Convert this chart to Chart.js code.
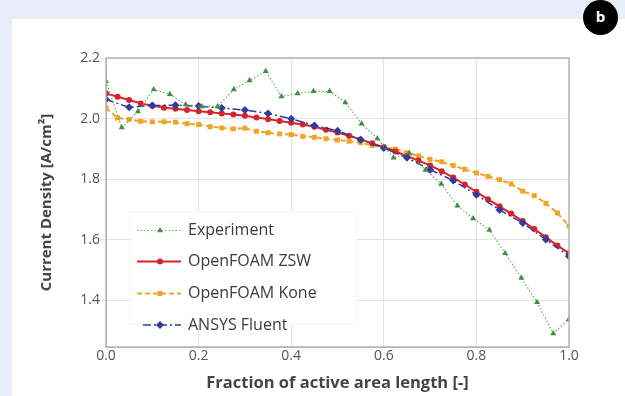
<!DOCTYPE html>
<html>
<head>
<meta charset="utf-8">
<script src="https://cdn.jsdelivr.net/npm/chart.js@4.4.1/dist/chart.umd.min.js"></script>
<style>
  html, body { margin: 0; padding: 0; }
  body { width: 625px; height: 396px; background: #e7eef7; position: relative; overflow: hidden; font-family: "Open Sans", sans-serif; }
  #panel { position: absolute; left: 12px; top: 19px; width: 613px; height: 377px; background: #fff; }
  #myChart { position: absolute; left: 0; top: 0; }
  #badge { position: absolute; left: 583px; top: 0px; width: 35px; height: 35px; border-radius: 50%; background: #000; color: #fff;
           font: bold 15px "Open Sans", sans-serif; text-align: center; line-height: 33px; }
</style>
</head>
<body>
<div id="panel"></div>
<canvas id="myChart" width="625" height="396"></canvas>
<div id="badge">b</div>
<script>
// Experiment
var expX = [0, 0.034, 0.069, 0.103, 0.138, 0.172, 0.207, 0.241, 0.276, 0.310, 0.345, 0.379, 0.414, 0.448, 0.483,
            0.517, 0.552, 0.586, 0.621, 0.655, 0.690, 0.724, 0.759, 0.793, 0.828, 0.862, 0.897, 0.931, 0.966, 1.0];
var expY = [2.123, 1.970, 2.023, 2.096, 2.080, 2.046, 2.040, 2.040, 2.096, 2.126, 2.156, 2.073, 2.083, 2.090, 2.090,
            2.053, 1.983, 1.934, 1.870, 1.886, 1.830, 1.784, 1.712, 1.670, 1.632, 1.555, 1.473, 1.393, 1.290, 1.337];

// OpenFOAM ZSW and OpenFOAM Kone share the same x positions
var ofX = [0, 0.025, 0.05, 0.075, 0.1, 0.125, 0.15, 0.175, 0.2, 0.225, 0.25, 0.275, 0.3, 0.325, 0.35, 0.375, 0.4,
           0.425, 0.45, 0.475, 0.5, 0.525, 0.55, 0.575, 0.6, 0.625, 0.65, 0.675, 0.7, 0.725, 0.75, 0.775, 0.8,
           0.825, 0.85, 0.875, 0.9, 0.925, 0.95, 0.975, 1.0];
var zswY = [2.083, 2.072, 2.061, 2.050, 2.042, 2.036, 2.032, 2.028, 2.024, 2.021, 2.017, 2.013, 2.009, 2.003, 1.998,
            1.992, 1.986, 1.980, 1.973, 1.963, 1.954, 1.943, 1.931, 1.918, 1.905, 1.891, 1.876, 1.861, 1.845, 1.826,
            1.805, 1.782, 1.758, 1.733, 1.710, 1.686, 1.661, 1.635, 1.608, 1.580, 1.555];
var koneY = [2.035, 2.002, 1.997, 1.991, 1.989, 1.989, 1.988, 1.983, 1.980, 1.973, 1.969, 1.966, 1.968, 1.958, 1.953,
             1.949, 1.947, 1.941, 1.938, 1.933, 1.929, 1.925, 1.920, 1.911, 1.905, 1.899, 1.887, 1.876, 1.865, 1.857,
             1.845, 1.832, 1.820, 1.809, 1.798, 1.784, 1.760, 1.745, 1.720, 1.688, 1.645];

// ANSYS Fluent
var fluentX = [0, 0.05, 0.1, 0.15, 0.2, 0.25, 0.3, 0.35, 0.4, 0.45, 0.5, 0.55, 0.6, 0.65, 0.7, 0.75, 0.8, 0.85, 0.9, 0.95, 1.0];
var fluentY = [2.063, 2.037, 2.043, 2.044, 2.041, 2.035, 2.028, 2.017, 1.999, 1.977, 1.960, 1.930, 1.903, 1.870, 1.831,
               1.795, 1.748, 1.698, 1.655, 1.600, 1.545];

var xTicks = [0, 0.2, 0.4, 0.6, 0.8, 1.0];
var yTicks = [1.4, 1.6, 1.8, 2.0, 2.2];

function pts(xs, ys) {
    return xs.map(function (x, i) { return { x: x, y: ys[i] }; });
}

var GREEN = '#3f8f3f', RED = '#d9222a', ORANGE = '#f2a225', BLUE = '#2e3d9c';

var series = [
    { label: 'Experiment', data: pts(expX, expY), borderColor: '#6aaa6a', backgroundColor: GREEN, pointBackgroundColor: GREEN,
      borderWidth: 1.2, borderDash: [1.5, 2], pointStyle: 'triangle', pointRadius: 3.5, order: 1 },
    { label: 'OpenFOAM ZSW', data: pts(ofX, zswY), borderColor: RED, backgroundColor: RED,
      borderWidth: 2, pointStyle: 'circle', pointRadius: 3, order: 3 },
    { label: 'OpenFOAM Kone', data: pts(ofX, koneY), borderColor: ORANGE, backgroundColor: ORANGE,
      borderWidth: 2, borderDash: [5, 3], pointStyle: 'rect', pointRadius: 3.5, order: 4 },
    { label: 'ANSYS Fluent', data: pts(fluentX, fluentY), borderColor: BLUE, backgroundColor: BLUE,
      borderWidth: 1.5, borderDash: [8, 3, 2, 3], pointStyle: 'rectRot', pointRadius: 4, order: 2 }
];
series.forEach(function (s) { s.pointBorderWidth = 0; s.tension = 0; s.pointBorderColor = s.backgroundColor; });

// frame round the plot + legend box inside the plot
var framePlugin = {
    id: 'frameLegend',
    afterDatasetsDraw: function (chart) {
        var c = chart.ctx, a = chart.chartArea;
        c.save();
        c.strokeStyle = '#b4b4b4';
        c.lineWidth = 1.5;
        c.strokeRect(a.left, a.top, a.right - a.left, a.bottom - a.top);

        // legend
        var lx = a.left + 24, ly = a.top + 154;
        c.fillStyle = 'rgba(255,255,255,0.97)';
        c.fillRect(lx, ly, 227, 112);
        c.strokeStyle = '#f4f4f4';
        c.lineWidth = 1;
        c.strokeRect(lx, ly, 227, 112);
        var rowY = [230.5, 261.5, 293.5, 325];
        series.forEach(function (s, i) {
            var y = rowY[i];
            c.strokeStyle = s.borderColor;
            c.lineWidth = s.borderWidth;
            c.setLineDash(s.borderDash || []);
            c.beginPath();
            c.moveTo(i === 3 ? 143 : 137, y);
            c.lineTo(181, y);
            c.stroke();
            c.setLineDash([]);
            c.fillStyle = s.backgroundColor;
            c.beginPath();
            Chart.helpers.drawPoint(c, { pointStyle: s.pointStyle, radius: s.pointRadius, borderWidth: 0 }, 160, y);
            c.fillStyle = '#3a3a3a';
            c.font = '16px "Open Sans", sans-serif';
            c.textBaseline = 'middle';
            c.textAlign = 'left';
            c.fillText(s.label, 188, y);
        });
        c.restore();
    }
};

const ctx = document.getElementById('myChart');

new Chart(ctx, {
    type: 'line',
    data: { datasets: series },
    plugins: [framePlugin],
    options: {
        responsive: false,
        animation: false,
        devicePixelRatio: 1,
        layout: { padding: { left: 34, right: 56, top: 58, bottom: 0 } },
        plugins: { legend: { display: false }, tooltip: { enabled: false } },
        scales: {
            x: {
                type: 'linear',
                min: 0,
                max: 1,
                afterFit: function (s) { s.height = 49; },
                afterBuildTicks: function (s) { s.ticks = xTicks.map(function (v) { return { value: v }; }); },
                ticks: {
                    color: '#555',
                    font: { family: 'Open Sans', size: 14 },
                    padding: 1,
                    maxRotation: 0,
                    callback: function (v) { return v.toFixed(1); }
                },
                grid: { color: '#e4e4e4', drawTicks: false },
                border: { color: '#b4b4b4' },
                title: {
                    display: true,
                    text: 'Fraction of active area length [-]',
                    color: '#444',
                    padding: { top: 4, bottom: 3 },
                    font: { family: 'Open Sans', size: 16.5, weight: 'bold' }
                }
            },
            y: {
                min: 1.245,
                max: 2.2,
                afterFit: function (s) { s.width = 72; },
                afterBuildTicks: function (s) { s.ticks = yTicks.map(function (v) { return { value: v }; }); },
                ticks: {
                    color: '#555',
                    font: { family: 'Open Sans', size: 14 },
                    padding: 1,
                    callback: function (v) { return v.toFixed(1); }
                },
                grid: { color: '#e4e4e4', tickLength: 5 },
                border: { color: '#b4b4b4' },
                title: {
                    display: true,
                    text: 'Current Density [A/cm²]',
                    color: '#444',
                    font: { family: 'Open Sans', size: 15, weight: 'bold' }
                }
            }
        }
    }
});
</script>
</body>
</html>
